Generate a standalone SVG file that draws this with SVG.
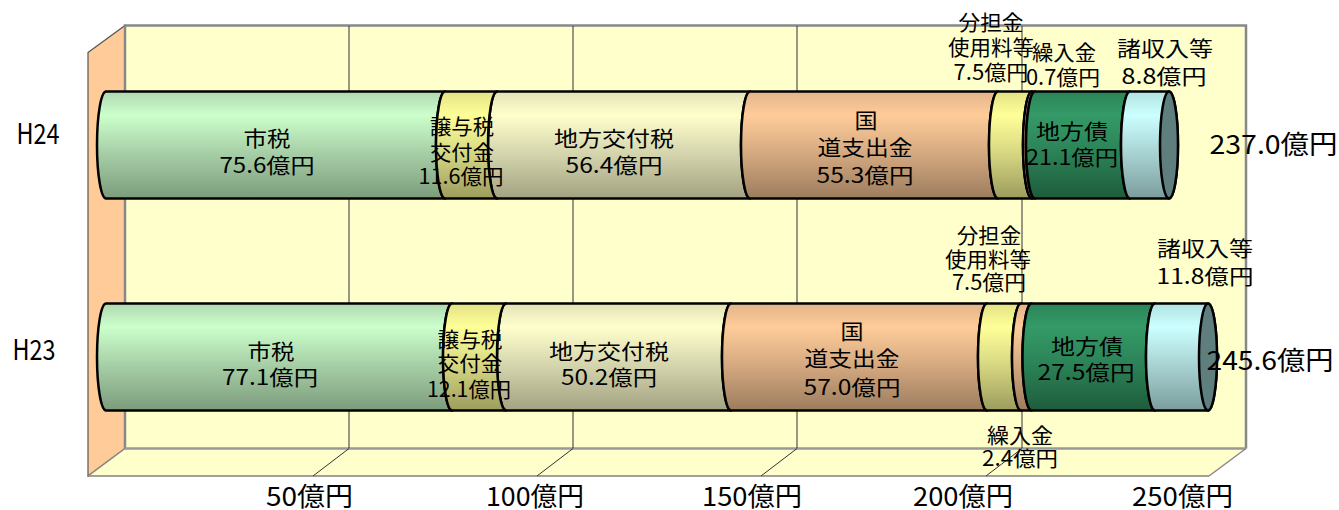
<svg xmlns="http://www.w3.org/2000/svg" width="1339" height="510" viewBox="0 0 1339 510">
<style>
.t{font-family:"Noto Sans CJK JP","Noto Sans CJK SC",sans-serif;font-size:21px;fill:#000;text-anchor:middle}
.ax{font-size:26px}
.hl{font-size:28px}
.seg{stroke:#000;stroke-width:2.5;stroke-linejoin:round}
.grid{stroke:#333;stroke-width:1;fill:none}
</style>
<defs>
<linearGradient id="gGreen" x1="0" y1="0" x2="0" y2="1"><stop offset="0" stop-color="#B0D8B0"/><stop offset="0.22" stop-color="#CCFFCC"/><stop offset="0.55" stop-color="#A9D2A9"/><stop offset="1" stop-color="#7C9C7C"/></linearGradient>
<linearGradient id="gYellow" x1="0" y1="0" x2="0" y2="1"><stop offset="0" stop-color="#E2E284"/><stop offset="0.22" stop-color="#FFFF99"/><stop offset="0.55" stop-color="#DADA84"/><stop offset="1" stop-color="#9C9C5E"/></linearGradient>
<linearGradient id="gCream" x1="0" y1="0" x2="0" y2="1"><stop offset="0" stop-color="#E2E2B6"/><stop offset="0.22" stop-color="#FFFFCC"/><stop offset="0.55" stop-color="#D8D8B0"/><stop offset="1" stop-color="#A2A282"/></linearGradient>
<linearGradient id="gPeach" x1="0" y1="0" x2="0" y2="1"><stop offset="0" stop-color="#E2B48A"/><stop offset="0.22" stop-color="#FFCC99"/><stop offset="0.55" stop-color="#D8AC82"/><stop offset="1" stop-color="#9C7C5E"/></linearGradient>
<linearGradient id="gDkGreen" x1="0" y1="0" x2="0" y2="1"><stop offset="0" stop-color="#2C8458"/><stop offset="0.22" stop-color="#349A67"/><stop offset="0.55" stop-color="#2C8458"/><stop offset="1" stop-color="#1E5C3C"/></linearGradient>
<linearGradient id="gCyan" x1="0" y1="0" x2="0" y2="1"><stop offset="0" stop-color="#B2E2E2"/><stop offset="0.22" stop-color="#CCFFFF"/><stop offset="0.55" stop-color="#ABD6D6"/><stop offset="1" stop-color="#7C9C9C"/></linearGradient>
</defs>

<g id="chart-frame">
  <rect x="125" y="25.5" width="1121" height="423" fill="#FFFFCC"/>
  <polygon points="88,52.5 125,25.5 125,448.5 88,476" fill="#FFCC99" stroke="#555" stroke-width="1.2"/>
  <polygon points="125,448.5 1246,448.5 1209,476 88,476" fill="#FFFFCC"/>
  <path d="M125 448.5 V25.5 H1246 V448.5" fill="none" stroke="#888" stroke-width="2.5"/>
  <line x1="125" y1="448.5" x2="1246" y2="448.5" stroke="#999" stroke-width="2.5"/>
  <line x1="88" y1="476" x2="1209" y2="476" stroke="#444" stroke-width="1.2"/>
  <line x1="1246" y1="448.5" x2="1209" y2="476" stroke="#888" stroke-width="1.5"/>
  <line x1="125" y1="448.5" x2="88" y2="476" stroke="#888" stroke-width="1.5"/>
  <g class="grid">
    <line x1="349" y1="26" x2="349" y2="448"/><line x1="573" y1="26" x2="573" y2="448"/>
    <line x1="797" y1="26" x2="797" y2="448"/><line x1="1022" y1="26" x2="1022" y2="448"/>
    <line x1="349" y1="448.5" x2="313" y2="476"/><line x1="573" y1="448.5" x2="537" y2="476"/>
    <line x1="797" y1="448.5" x2="761" y2="476"/><line x1="1022" y1="448.5" x2="986" y2="476"/>
  </g>
</g>

<g id="axis-labels">
  <text class="t ax" x="309.5" y="505.5" textLength="87" lengthAdjust="spacingAndGlyphs">50億円</text>
  <text class="t ax" x="535" y="505.5" textLength="98" lengthAdjust="spacingAndGlyphs">100億円</text>
  <text class="t ax" x="752" y="505.5" textLength="100" lengthAdjust="spacingAndGlyphs">150億円</text>
  <text class="t ax" x="963" y="505.5" textLength="100" lengthAdjust="spacingAndGlyphs">200億円</text>
  <text class="t ax" x="1182.5" y="505.5" textLength="101" lengthAdjust="spacingAndGlyphs">250億円</text>
  <text class="t hl" x="38" y="144" textLength="43" lengthAdjust="spacingAndGlyphs">H24</text>
  <text class="t hl" x="34" y="360" textLength="43" lengthAdjust="spacingAndGlyphs">H23</text>
</g>

<!-- H24 row -->
<g id="h24-shizei">
  <path class="seg" fill="url(#gGreen)" d="M106 91.5 H445 A9 53.5 0 0 0 445 198.5 H106 A9 53.5 0 0 1 106 91.5 Z"/>
  <text class="t" x="267" y="145.5" textLength="47" lengthAdjust="spacingAndGlyphs">市税</text>
  <text class="t" x="267" y="172.5" textLength="95" lengthAdjust="spacingAndGlyphs">75.6億円</text>
</g>
<g id="h24-chihokofuzei">
  <path class="seg" fill="url(#gCream)" d="M497 91.5 H750 A9 53.5 0 0 0 750 198.5 H497 A9 53.5 0 0 1 497 91.5 Z"/>
  <text class="t" x="614" y="146" textLength="120" lengthAdjust="spacingAndGlyphs">地方交付税</text>
  <text class="t" x="614" y="172.5" textLength="97" lengthAdjust="spacingAndGlyphs">56.4億円</text>
</g>
<g id="h24-joyozei">
  <path class="seg" fill="url(#gYellow)" d="M445 91.5 H497 A9 53.5 0 0 0 497 198.5 H445 A9 53.5 0 0 1 445 91.5 Z"/>
  <text class="t" x="462" y="134" textLength="64" lengthAdjust="spacingAndGlyphs">譲与税</text>
  <text class="t" x="462" y="160" textLength="64" lengthAdjust="spacingAndGlyphs">交付金</text>
  <text class="t" x="461" y="184" textLength="85" lengthAdjust="spacingAndGlyphs">11.6億円</text>
</g>
<g id="h24-kokudo">
  <path class="seg" fill="url(#gPeach)" d="M750 91.5 H998 A9 53.5 0 0 0 998 198.5 H750 A9 53.5 0 0 1 750 91.5 Z"/>
  <text class="t" x="866" y="127.5" textLength="23" lengthAdjust="spacingAndGlyphs">国</text>
  <text class="t" x="865" y="155" textLength="95" lengthAdjust="spacingAndGlyphs">道支出金</text>
  <text class="t" x="865" y="182.5" textLength="97" lengthAdjust="spacingAndGlyphs">55.3億円</text>
</g>
<g id="h24-buntankin">
  <path class="seg" fill="url(#gYellow)" d="M998 91.5 H1032 A9 53.5 0 0 0 1032 198.5 H998 A9 53.5 0 0 1 998 91.5 Z"/>
  <text class="t" x="991" y="30" textLength="65" lengthAdjust="spacingAndGlyphs">分担金</text>
  <text class="t" x="991" y="55" textLength="86" lengthAdjust="spacingAndGlyphs">使用料等</text>
  <text class="t" x="991" y="80" textLength="75" lengthAdjust="spacingAndGlyphs">7.5億円</text>
</g>
<g id="h24-kurirekin">
  <path class="seg" fill="url(#gPeach)" d="M1032 91.5 H1035 A9 53.5 0 0 0 1035 198.5 H1032 A9 53.5 0 0 1 1032 91.5 Z"/>
  <text class="t" x="1064" y="60" textLength="64" lengthAdjust="spacingAndGlyphs">繰入金</text>
  <text class="t" x="1063" y="84.5" textLength="74" lengthAdjust="spacingAndGlyphs">0.7億円</text>
</g>
<g id="h24-chihosai">
  <path class="seg" fill="url(#gDkGreen)" d="M1035 91.5 H1130 A9 53.5 0 0 0 1130 198.5 H1035 A9 53.5 0 0 1 1035 91.5 Z"/>
  <text class="t" x="1072" y="138.5" textLength="72" lengthAdjust="spacingAndGlyphs">地方債</text>
  <text class="t" x="1072" y="164.5" textLength="92" lengthAdjust="spacingAndGlyphs">21.1億円</text>
</g>
<g id="h24-shoshunyu">
  <path class="seg" fill="url(#gCyan)" d="M1130 91.5 H1169 A9 53.5 0 0 1 1169 198.5 H1130 A9 53.5 0 0 1 1130 91.5 Z"/>
  <ellipse class="seg" cx="1169" cy="145" rx="9" ry="53.5" fill="#5F7F7F"/>
  <text class="t" x="1165" y="56" textLength="96" lengthAdjust="spacingAndGlyphs">諸収入等</text>
  <text class="t" x="1164" y="84" textLength="85" lengthAdjust="spacingAndGlyphs">8.8億円</text>
</g>
<g id="h24-total">
  <text class="t ax" x="1273.5" y="153.5" textLength="128" lengthAdjust="spacingAndGlyphs">237.0億円</text>
</g>

<!-- H23 row -->
<g id="h23-shizei">
  <path class="seg" fill="url(#gGreen)" d="M106 303.5 H452 A9 53.5 0 0 0 452 410.5 H106 A9 53.5 0 0 1 106 303.5 Z"/>
  <text class="t" x="271" y="358.5" textLength="47" lengthAdjust="spacingAndGlyphs">市税</text>
  <text class="t" x="270" y="384.5" textLength="96" lengthAdjust="spacingAndGlyphs">77.1億円</text>
</g>
<g id="h23-chihokofuzei">
  <path class="seg" fill="url(#gCream)" d="M506 303.5 H731 A9 53.5 0 0 0 731 410.5 H506 A9 53.5 0 0 1 506 303.5 Z"/>
  <text class="t" x="609" y="358.5" textLength="120" lengthAdjust="spacingAndGlyphs">地方交付税</text>
  <text class="t" x="609" y="385" textLength="96" lengthAdjust="spacingAndGlyphs">50.2億円</text>
</g>
<g id="h23-joyozei">
  <path class="seg" fill="url(#gYellow)" d="M452 303.5 H506 A9 53.5 0 0 0 506 410.5 H452 A9 53.5 0 0 1 452 303.5 Z"/>
  <text class="t" x="470" y="347" textLength="65" lengthAdjust="spacingAndGlyphs">譲与税</text>
  <text class="t" x="470" y="370.5" textLength="65" lengthAdjust="spacingAndGlyphs">交付金</text>
  <text class="t" x="469" y="396.5" textLength="84" lengthAdjust="spacingAndGlyphs">12.1億円</text>
</g>
<g id="h23-kokudo">
  <path class="seg" fill="url(#gPeach)" d="M731 303.5 H987 A9 53.5 0 0 0 987 410.5 H731 A9 53.5 0 0 1 731 303.5 Z"/>
  <text class="t" x="852" y="339" textLength="23" lengthAdjust="spacingAndGlyphs">国</text>
  <text class="t" x="852" y="365.5" textLength="95" lengthAdjust="spacingAndGlyphs">道支出金</text>
  <text class="t" x="852" y="394.5" textLength="97" lengthAdjust="spacingAndGlyphs">57.0億円</text>
</g>
<g id="h23-buntankin">
  <path class="seg" fill="url(#gYellow)" d="M987 303.5 H1021 A9 53.5 0 0 0 1021 410.5 H987 A9 53.5 0 0 1 987 303.5 Z"/>
  <text class="t" x="989" y="243" textLength="64" lengthAdjust="spacingAndGlyphs">分担金</text>
  <text class="t" x="988" y="266.5" textLength="86" lengthAdjust="spacingAndGlyphs">使用料等</text>
  <text class="t" x="989" y="290" textLength="74" lengthAdjust="spacingAndGlyphs">7.5億円</text>
</g>
<g id="h23-kurirekin">
  <path class="seg" fill="url(#gPeach)" d="M1021 303.5 H1031.5 A9 53.5 0 0 0 1031.5 410.5 H1021 A9 53.5 0 0 1 1021 303.5 Z"/>
  <text class="t" x="1020" y="443" textLength="66" lengthAdjust="spacingAndGlyphs">繰入金</text>
  <text class="t" x="1020" y="466" textLength="76" lengthAdjust="spacingAndGlyphs">2.4億円</text>
</g>
<g id="h23-chihosai">
  <path class="seg" fill="url(#gDkGreen)" d="M1031.5 303.5 H1155 A9 53.5 0 0 0 1155 410.5 H1031.5 A9 53.5 0 0 1 1031.5 303.5 Z"/>
  <text class="t" x="1087" y="354" textLength="72" lengthAdjust="spacingAndGlyphs">地方債</text>
  <text class="t" x="1086" y="380" textLength="97" lengthAdjust="spacingAndGlyphs">27.5億円</text>
</g>
<g id="h23-shoshunyu">
  <path class="seg" fill="url(#gCyan)" d="M1155 303.5 H1208 A9 53.5 0 0 1 1208 410.5 H1155 A9 53.5 0 0 1 1155 303.5 Z"/>
  <ellipse class="seg" cx="1208" cy="357" rx="9" ry="53.5" fill="#5F7F7F"/>
  <text class="t" x="1205" y="256" textLength="96" lengthAdjust="spacingAndGlyphs">諸収入等</text>
  <text class="t" x="1205" y="284" textLength="97" lengthAdjust="spacingAndGlyphs">11.8億円</text>
</g>
<g id="h23-total">
  <text class="t ax" x="1270" y="369.5" textLength="127" lengthAdjust="spacingAndGlyphs">245.6億円</text>
</g>
<g id="connectors"/>
</svg>
